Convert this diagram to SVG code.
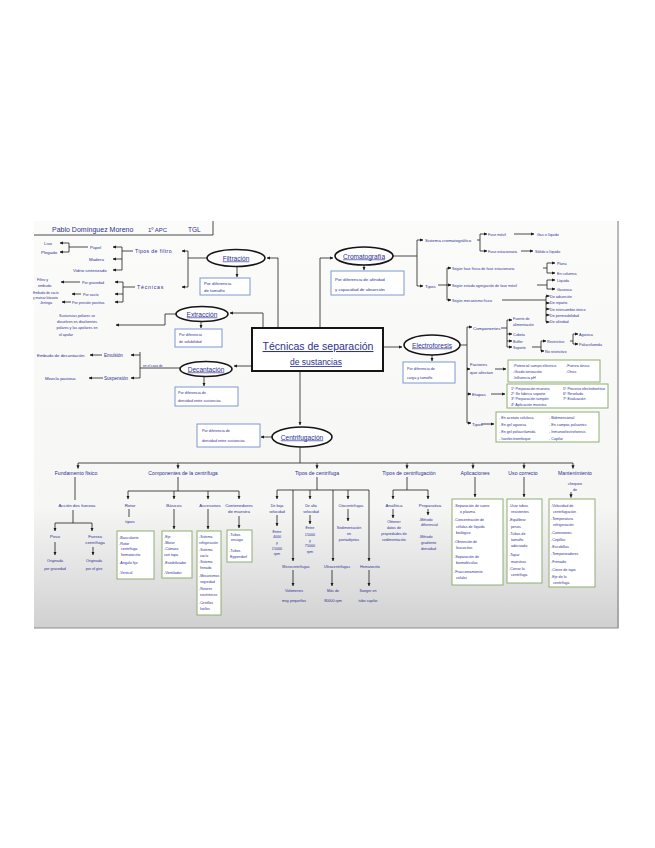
<svg xmlns="http://www.w3.org/2000/svg" width="655" height="848" viewBox="0 0 655 848">
<defs>
<linearGradient id="shade" x1="0" y1="0" x2="0" y2="1">
<stop offset="0" stop-color="#fbfbfa"/><stop offset="0.7" stop-color="#f6f6f5"/><stop offset="0.85" stop-color="#e4e4e4"/><stop offset="1" stop-color="#d0d0d0"/>
</linearGradient>
<marker id="ar" viewBox="0 0 6 6" refX="5.5" refY="3" markerWidth="3.6" markerHeight="3.6" markerUnits="userSpaceOnUse" orient="auto"><path d="M0,0.4L6,3L0,5.6z" fill="#1a1a1a"/></marker>
</defs>
<style>
.ln{fill:none;stroke:#1f1f1f;stroke-width:0.8}
.ar{marker-end:url(#ar)}
.t{font-family:"Liberation Sans",Arial,sans-serif;fill:#2d3192;font-size:4.4px}
.ts{font-size:3.7px}
.tm{font-size:5.2px}
.te{font-size:6.6px;text-decoration:underline}
.c{text-anchor:middle}
.el{fill:#fff;stroke:#151515;stroke-width:1.6}
.bb{fill:#fff;stroke:#7f98cf;stroke-width:1}
.gb{fill:#fff;stroke:#8db072;stroke-width:1}
</style>
<rect width="655" height="848" fill="#fff"/>
<rect x="34" y="221" width="585" height="407" fill="url(#shade)"/>
<path d="M618,221V628H34" fill="none" stroke="#8c8c8c" stroke-width="1.2"/>

<g id="title">
<path d="M34,235H213V221" class="ln" stroke-width="1"/>
<text class="t" x="52" y="232" style="font-size:7px">Pablo Domínguez Moreno</text>
<text class="t" x="148" y="232" style="font-size:6px">1º APC</text>
<text class="t" x="188" y="232" style="font-size:6.5px">TGL</text>
</g>

<g id="connectors">
<!-- main box -->
<path class="ln ar" d="M278,328V258H267"/>
<path class="ln ar" d="M320,328V258H333"/>
<path class="ln ar" d="M263,328V313H230"/>
<path class="ln ar" d="M252,366H234"/>
<path class="ln ar" d="M383,347H402"/>
<path class="ln ar" d="M300,371V425"/>
<!-- to description boxes -->
<path class="ln ar" d="M237,266.5V277"/>
<path class="ln ar" d="M201,322V328"/>
<path class="ln ar" d="M204,377V386"/>
<path class="ln ar" d="M364,265V270"/>
<path class="ln ar" d="M432,355V361"/>
<path class="ln ar" d="M272,437H261"/>
<!-- filtracion -->
<path class="ln" d="M207,258H188M188,251V287"/>
<path class="ln ar" d="M188,251H182"/>
<path class="ln ar" d="M188,287H182"/>
<path class="ln" d="M133,251H122M122,247V270"/>
<path class="ln ar" d="M122,247H113"/>
<path class="ln ar" d="M122,259H113"/>
<path class="ln ar" d="M122,270H113"/>
<path class="ln" d="M88,247H69M69,243V252"/>
<path class="ln ar" d="M69,243H60"/>
<path class="ln ar" d="M69,252H60"/>
<path class="ln" d="M135,287H123M123,282V302"/>
<path class="ln ar" d="M123,282H115"/>
<path class="ln ar" d="M123,294H115"/>
<path class="ln ar" d="M123,302H115"/>
<path class="ln ar" d="M80,282H61"/>
<path class="ln ar" d="M81,294H72"/>
<path class="ln ar" d="M71,302H62"/>
<!-- extraccion -->
<path class="ln ar" d="M176,314H165V325H116"/>
<!-- decantacion -->
<path class="ln" d="M180,368H140M140,352V378"/>
<path class="ln ar" d="M140,355H131"/>
<path class="ln ar" d="M140,378H131"/>
<path class="ln ar" d="M102,355H90"/>
<path class="ln ar" d="M103,378H89"/>
<!-- cromatografia -->
<path class="ln" d="M393,256H417M417,240V286"/>
<path class="ln ar" d="M417,240H423"/>
<path class="ln ar" d="M417,286H423"/>
<path class="ln" d="M477,240H480M480,234V251"/>
<path class="ln ar" d="M480,234H487"/>
<path class="ln ar" d="M480,251H487"/>
<path class="ln ar" d="M514,234H534"/>
<path class="ln ar" d="M521,251H533"/>
<path class="ln" d="M438,285H447M447,268V300"/>
<path class="ln ar" d="M447,268H451"/>
<path class="ln ar" d="M447,285H451"/>
<path class="ln ar" d="M447,300H451"/>
<path class="ln" d="M543,268H547M547,263V273"/>
<path class="ln ar" d="M547,263H555"/>
<path class="ln ar" d="M547,273H555"/>
<path class="ln" d="M537,285H547M547,280V289"/>
<path class="ln ar" d="M547,280H555"/>
<path class="ln ar" d="M547,289H555"/>
<path class="ln" d="M502,300H546M546,296V322"/>
<path class="ln ar" d="M546,296H549.5"/>
<path class="ln ar" d="M546,303H549.5"/>
<path class="ln ar" d="M546,309H549.5"/>
<path class="ln ar" d="M546,315H549.5"/>
<path class="ln ar" d="M546,322H549.5"/>
<!-- electroforesis -->
<path class="ln" d="M460,345H467M467,327V423"/>
<path class="ln ar" d="M467,327H472"/>
<path class="ln ar" d="M467,369H470"/>
<path class="ln ar" d="M467,394H471"/>
<path class="ln ar" d="M467,423H471"/>
<path class="ln" d="M501,328H507M507,320V347"/>
<path class="ln ar" d="M507,320H512"/>
<path class="ln ar" d="M507,334H512"/>
<path class="ln ar" d="M507,341H512"/>
<path class="ln ar" d="M507,347H512"/>
<path class="ln" d="M532,347H541M541,341V351"/>
<path class="ln ar" d="M541,341H546"/>
<path class="ln ar" d="M541,351H544"/>
<path class="ln" d="M570,341H573M573,334V344"/>
<path class="ln ar" d="M573,334H578"/>
<path class="ln ar" d="M573,344H578"/>
<path class="ln ar" d="M495,369H506"/>
<path class="ln ar" d="M491,394H505"/>
<path class="ln ar" d="M481,424H494"/>
<!-- centrifugacion -->
<path class="ln" d="M300,447V463M78,463H573"/>
<path class="ln ar" d="M78,463V468.5"/>
<path class="ln ar" d="M178,463V468.5"/>
<path class="ln ar" d="M317,463V468.5"/>
<path class="ln ar" d="M407,463V468.5"/>
<path class="ln ar" d="M473,463V468.5"/>
<path class="ln ar" d="M524,463V468.5"/>
<path class="ln ar" d="M573,463V468.5"/>
<!-- fundamento -->
<path class="ln" d="M75,477V500M73,510V523M55,523H92"/>
<path class="ln ar" d="M55,523V531"/>
<path class="ln ar" d="M92,523V531"/>
<path class="ln ar" d="M55,542V555"/>
<path class="ln ar" d="M93,547V555"/>
<!-- componentes -->
<path class="ln" d="M178,477V491M128,491H239M129,509V517"/>
<path class="ln ar" d="M128,491V499"/>
<path class="ln ar" d="M174,491V499"/>
<path class="ln ar" d="M208,491V499"/>
<path class="ln ar" d="M239,491V499"/>
<path class="ln ar" d="M174,509V529"/>
<path class="ln ar" d="M208,509V529"/>
<path class="ln ar" d="M239,516V528"/>
<!-- tipos de centrifuga -->
<path class="ln" d="M317,477V490M277,490H369"/>
<path class="ln ar" d="M277,490V499"/>
<path class="ln ar" d="M293,490V561"/>
<path class="ln ar" d="M310,490V499"/>
<path class="ln ar" d="M333,490V561"/>
<path class="ln ar" d="M348,490V499"/>
<path class="ln ar" d="M369,490V561"/>
<path class="ln ar" d="M277,515V526"/>
<path class="ln ar" d="M310,515V524"/>
<path class="ln ar" d="M348,509V521"/>
<path class="ln ar" d="M293,570V586"/>
<path class="ln ar" d="M332,570V586"/>
<path class="ln ar" d="M369,570V586"/>
<!-- tipos de centrifugacion -->
<path class="ln" d="M407,477V490M393,490H428"/>
<path class="ln ar" d="M393,490V499"/>
<path class="ln ar" d="M428,490V499"/>
<path class="ln ar" d="M393,509V518"/>
<path class="ln ar" d="M428,509V515"/>
<!-- aplicaciones / uso / mantenimiento -->
<path class="ln ar" d="M475,477V497"/>
<path class="ln ar" d="M524,477V497"/>
<path class="ln ar" d="M571,492V497.5"/>
</g>

<g id="tecnicas">
<rect x="252" y="328" width="131" height="43" fill="#fff" stroke="#151515" stroke-width="2"/>
<text class="t c" x="318" y="350" style="font-size:10.5px;text-decoration:underline">Técnicas de separación</text>
<text class="t c" x="316" y="365" style="font-size:8.5px;text-decoration:underline">de sustancias</text>
</g>

<g id="filtracion">
<ellipse class="el" cx="236" cy="258" rx="29" ry="8.5"/>
<text class="t te c" x="236" y="260.5">Filtración</text>
<rect class="bb" x="200" y="278" width="50" height="17"/>
<text class="t" x="204" y="285">Por diferencia</text>
<text class="t" x="204" y="292">de tamaño</text>
<text class="t tm" x="135" y="253" style="letter-spacing:0.4px">Tipos de filtro</text>
<text class="t tm" x="137" y="289" style="letter-spacing:0.8px">Técnicas</text>
<text class="t" x="90" y="248.5">Papel</text>
<text class="t" x="89" y="260.5">Madera</text>
<text class="t" x="73" y="271.5">Vidrio sinterizado</text>
<text class="t" x="44" y="244.5">Liso</text>
<text class="t" x="41" y="254">Plegado</text>
<text class="t ts" x="82" y="283.5">Por gravedad</text>
<text class="t ts" x="83" y="295.5">Por vacío</text>
<text class="t ts" x="72" y="303.5">Por presión positiva</text>
<text class="t ts" x="37" y="280.5">Filtro y</text>
<text class="t ts" x="38" y="287">embudo</text>
<text class="t" x="33" y="294" style="font-size:3.3px">Embudo de vacío</text>
<text class="t" x="33" y="298.5" style="font-size:3.3px">y matraz kitasato</text>
<text class="t ts" x="40" y="304">Jeringa</text>
</g>

<g id="extraccion">
<ellipse class="el" cx="202" cy="314" rx="26" ry="7.5"/>
<text class="t te c" x="202" y="316.5">Extracción</text>
<rect class="bb" x="175" y="329" width="47" height="18"/>
<text class="t ts" x="179" y="336">Por diferencia</text>
<text class="t ts" x="179" y="343">de solubilidad</text>
<text class="t ts c" x="77" y="317">Sustancias polares se</text>
<text class="t ts c" x="77" y="323">disuelven en disolventes</text>
<text class="t ts c" x="77" y="329">polares y las apolares en</text>
<text class="t ts c" x="66" y="336">el apolar</text>
</g>

<g id="decantacion">
<ellipse class="el" cx="206" cy="369" rx="26" ry="7.5"/>
<text class="t te c" x="206" y="371.5">Decantación</text>
<rect class="bb" x="175" y="387" width="63" height="19"/>
<text class="t ts" x="178" y="394">Por diferencia de</text>
<text class="t ts" x="178" y="402">densidad entre sustancias</text>
<text class="t" x="143" y="366.5" style="font-size:3.3px">en el caso de</text>
<text class="t tm" x="104" y="357" style="font-size:4.6px">Emulsión</text>
<text class="t tm" x="104" y="380" style="font-size:4.6px">Suspensión</text>
<text class="t" x="37" y="357">Embudo de decantación</text>
<text class="t" x="45" y="380">Mezcla pastosa</text>
</g>

<g id="cromatografia">
<ellipse class="el" cx="364" cy="256" rx="29" ry="9"/>
<text class="t te c" x="364" y="258.5">Cromatografía</text>
<rect class="bb" x="331" y="271" width="73" height="24"/>
<text class="t" x="335" y="281">Por diferencia de afinidad</text>
<text class="t" x="335" y="291">y capacidad de absorción</text>
<text class="t" x="425" y="242">Sistema cromatográfico</text>
<text class="t" x="425" y="287.5">Tipos</text>
<text class="t ts" x="488" y="235.5">Fase móvil</text>
<text class="t ts" x="488" y="252.5">Fase estacionaria</text>
<text class="t ts" x="537" y="235.5">Gas o líquido</text>
<text class="t ts" x="535" y="252.5">Sólido o líquido</text>
<text class="t ts" x="452" y="269.5">Según fase física de fase estacionaria</text>
<text class="t ts" x="452" y="286.5">Según estado agregación de fase móvil</text>
<text class="t ts" x="452" y="301.5">Según mecanismo físico</text>
<text class="t ts" x="557" y="264.5">Plana</text>
<text class="t ts" x="557" y="274.5">En columna</text>
<text class="t ts" x="557" y="281.5">Líquida</text>
<text class="t ts" x="557" y="290.5">Gaseosa</text>
<text class="t ts" x="550" y="297.5">De adsorción</text>
<text class="t ts" x="550" y="304">De reparto</text>
<text class="t ts" x="550" y="310.5">De intercambio iónico</text>
<text class="t ts" x="550" y="316.5">De permeabilidad</text>
<text class="t ts" x="550" y="323">De afinidad</text>
</g>

<g id="electroforesis">
<ellipse class="el" cx="432" cy="345" rx="28" ry="10"/>
<text class="t te c" x="432" y="347.5">Electroforesis</text>
<rect class="bb" x="403" y="362" width="52" height="21"/>
<text class="t ts" x="407" y="370">Por diferencia de</text>
<text class="t ts" x="407" y="379">carga y tamaño</text>
<text class="t" x="473" y="329.5">Componentes</text>
<text class="t ts" x="513" y="319.5">Fuente de</text>
<text class="t ts" x="513" y="325.5">alimentación</text>
<text class="t ts" x="513" y="335.5">Cubeta</text>
<text class="t ts" x="513" y="342.5">Buffer</text>
<text class="t ts" x="513" y="348.5">Soporte</text>
<text class="t ts" x="547" y="342.5">Restrictivo</text>
<text class="t ts" x="545" y="352.5">No restrictivo</text>
<text class="t ts" x="579" y="335.5">Agarosa</text>
<text class="t ts" x="579" y="345.5">Poliacrilamida</text>
<text class="t" x="470" y="365.5">Factores</text>
<text class="t" x="470" y="373.5">que afectan</text>
<rect class="gb" x="508" y="360" width="92" height="22"/>
<text class="t ts" x="513" y="366.5">-Potencial campo eléctrico</text>
<text class="t ts" x="513" y="372.5">-Grado ionización</text>
<text class="t ts" x="513" y="379">-Influencia pH</text>
<text class="t ts" x="566" y="366.5">-Fuerza iónica</text>
<text class="t ts" x="566" y="372.5">-Otros</text>
<text class="t" x="472" y="395.5">Etapas</text>
<rect class="gb" x="507" y="384" width="101" height="24"/>
<text class="t ts" x="511" y="389.5">1º Preparación muestra</text>
<text class="t ts" x="511" y="394.5">2º Se fabrica soporte</text>
<text class="t ts" x="511" y="399.5">3º Preparación tampón</text>
<text class="t ts" x="511" y="405.5">4º Aplicación muestra</text>
<text class="t ts" x="563" y="389.5">5º Proceso electroforético</text>
<text class="t ts" x="563" y="394.5">6º Revelado</text>
<text class="t ts" x="563" y="399.5">7º Evaluación</text>
<text class="t" x="472" y="425.5">Tipos</text>
<rect class="gb" x="496" y="412" width="103" height="30"/>
<text class="t ts" x="499" y="418.5">- En acetato celulosa</text>
<text class="t ts" x="499" y="425.5">- En gel agarosa</text>
<text class="t ts" x="499" y="432.5">- En gel poliacrilamida</text>
<text class="t ts" x="499" y="439.5">- Isoelectroenfoque</text>
<text class="t ts" x="549" y="418.5">- Bidimensional</text>
<text class="t ts" x="549" y="425.5">- En campos pulsantes</text>
<text class="t ts" x="549" y="432.5">- Inmunoelectroforesis</text>
<text class="t ts" x="549" y="439.5">- Capilar</text>
</g>

<g id="centrifugacion">
<ellipse class="el" cx="302" cy="437" rx="30" ry="10"/>
<text class="t te c" x="302" y="439.5">Centrifugación</text>
<rect class="bb" x="197" y="424" width="63" height="23"/>
<text class="t ts" x="202" y="432">Por diferencia de</text>
<text class="t ts" x="202" y="442">densidad entre sustancias</text>
</g>

<g id="fundamento">
<text class="t tm c" x="76" y="475">Fundamento físico</text>
<text class="t c" x="77" y="507">Acción dos fuerzas</text>
<text class="t c" x="55" y="538">Peso</text>
<text class="t c" x="95" y="538">Fuerza</text>
<text class="t c" x="95" y="544">centrífuga</text>
<text class="t ts c" x="55" y="562">Originada</text>
<text class="t ts c" x="55" y="570">por gravedad</text>
<text class="t ts c" x="94" y="562">Originada</text>
<text class="t ts c" x="94" y="570">por el giro</text>
</g>

<g id="componentes">
<text class="t tm c" x="183" y="475">Componentes de la centrífuga</text>
<text class="t c" x="130" y="506.5">Rotor</text>
<text class="t c" x="130" y="522.5">tipos</text>
<rect class="gb" x="117" y="531" width="37" height="48"/>
<text class="t ts" x="119" y="538.5">-Basculante</text>
<text class="t ts" x="119" y="544.5">-Rotor</text>
<text class="t ts" x="121" y="550">centrífuga</text>
<text class="t ts" x="121" y="556">hematocrito</text>
<text class="t ts" x="119" y="564">-Ángulo fijo</text>
<text class="t ts" x="119" y="574">-Vertical</text>
<text class="t c" x="174" y="506.5">Básicos</text>
<rect class="gb" x="162" y="531" width="30" height="47"/>
<text class="t ts" x="164" y="537.5">-Eje</text>
<text class="t ts" x="164" y="543.5">-Motor</text>
<text class="t ts" x="164" y="550">-Cámara</text>
<text class="t ts" x="164" y="556">con tapa</text>
<text class="t ts" x="164" y="564">-Estabilizador</text>
<text class="t ts" x="164" y="574">-Ventilador</text>
<text class="t c" x="210" y="506.5">Accesorios</text>
<rect class="gb" x="197" y="531" width="24" height="84"/>
<text class="t" x="199" y="538" style="font-size:3.4px">-Sistema</text>
<text class="t" x="199" y="543.5" style="font-size:3.4px">refrigeración</text>
<text class="t" x="199" y="551" style="font-size:3.4px">-Sistema</text>
<text class="t" x="200" y="557" style="font-size:3.4px">vacío</text>
<text class="t" x="199" y="563" style="font-size:3.4px">-Sistema</text>
<text class="t" x="200" y="569" style="font-size:3.4px">frenado</text>
<text class="t" x="199" y="577" style="font-size:3.4px">-Mecanismos</text>
<text class="t" x="200" y="583" style="font-size:3.4px">seguridad</text>
<text class="t" x="199" y="590" style="font-size:3.4px">-Rotores</text>
<text class="t" x="200" y="596" style="font-size:3.4px">excéntricos</text>
<text class="t" x="199" y="604" style="font-size:3.4px">-Cestillos</text>
<text class="t" x="200" y="610" style="font-size:3.4px">fuelles</text>
<text class="t c" x="239" y="506.5">Contenedores</text>
<text class="t c" x="239" y="513">de muestra</text>
<rect class="gb" x="227" y="530" width="25" height="32"/>
<text class="t ts" x="229" y="535.5">-Tubos</text>
<text class="t ts" x="231" y="541">ensayo</text>
<text class="t ts" x="229" y="552">-Tubos</text>
<text class="t ts" x="230" y="558">Eppendorf</text>
</g>

<g id="tipos-centrifuga">
<text class="t tm c" x="317" y="475">Tipos de centrífuga</text>
<text class="t ts c" x="277" y="506.5">De baja</text>
<text class="t ts c" x="277" y="513">velocidad</text>
<text class="t ts c" x="277" y="532.5">Entre</text>
<text class="t ts c" x="277" y="538">4000</text>
<text class="t ts c" x="277" y="543.5">y</text>
<text class="t ts c" x="277" y="549.5">15000</text>
<text class="t ts c" x="277" y="555">rpm</text>
<text class="t ts c" x="311" y="506.5">De alta</text>
<text class="t ts c" x="311" y="513">velocidad</text>
<text class="t ts c" x="310" y="529">Entre</text>
<text class="t ts c" x="310" y="536">15000</text>
<text class="t ts c" x="310" y="541.5">y</text>
<text class="t ts c" x="310" y="547">75000</text>
<text class="t ts c" x="310" y="553">rpm</text>
<text class="t ts c" x="351" y="506.5">Citocentrífugas</text>
<text class="t ts c" x="349" y="528.5">Sedimentación</text>
<text class="t ts c" x="349" y="534.5">en</text>
<text class="t ts c" x="349" y="540.5">portaobjetos</text>
<text class="t ts c" x="296" y="567.5">Microcentrífugas</text>
<text class="t ts c" x="294" y="592">Volúmenes</text>
<text class="t ts c" x="294" y="601.5">muy pequeños</text>
<text class="t ts c" x="337" y="567.5">Ultracentrífugas</text>
<text class="t ts c" x="333" y="592">Más de</text>
<text class="t ts c" x="333" y="601.5">80000 rpm</text>
<text class="t ts c" x="370" y="567.5">Hematocrito</text>
<text class="t ts c" x="368" y="592">Sangre en</text>
<text class="t ts c" x="368" y="601.5">tubo capilar</text>
</g>

<g id="tipos-centrifugacion">
<text class="t tm c" x="409" y="475">Tipos de centrifugación</text>
<text class="t c" x="394" y="506.5">Analítica</text>
<text class="t ts c" x="394" y="523">Obtener</text>
<text class="t ts c" x="394" y="529">datos de</text>
<text class="t ts c" x="394" y="535">propiedades de</text>
<text class="t ts c" x="394" y="541">sedimentación</text>
<text class="t c" x="430" y="506.5">Preparativa</text>
<text class="t ts" x="419" y="520.5">-Método</text>
<text class="t ts" x="421" y="526">diferencial</text>
<text class="t ts" x="419" y="537.5">-Método</text>
<text class="t ts" x="421" y="543.5">gradiente</text>
<text class="t ts" x="421" y="549.5">densidad</text>
</g>

<g id="aplicaciones">
<text class="t tm c" x="475" y="475">Aplicaciones</text>
<rect class="gb" x="452" y="499" width="51" height="86"/>
<text class="t ts" x="454" y="506.5">-Separación de suero</text>
<text class="t ts" x="460" y="513">o plasma</text>
<text class="t ts" x="454" y="521">-Concentración de</text>
<text class="t ts" x="456" y="527.5">células de líquido</text>
<text class="t ts" x="456" y="534">biológico</text>
<text class="t ts" x="454" y="543">-Obtención de</text>
<text class="t ts" x="456" y="549">leucocitos</text>
<text class="t ts" x="454" y="558">-Separación de</text>
<text class="t ts" x="456" y="564">biomoléculas</text>
<text class="t ts" x="454" y="573">-Fraccionamiento</text>
<text class="t ts" x="456" y="579">celular</text>
</g>

<g id="uso-correcto">
<text class="t tm c" x="523" y="475">Uso correcto</text>
<rect class="gb" x="507" y="499" width="35" height="84"/>
<text class="t ts" x="509" y="506.5">-Usar tubos</text>
<text class="t ts" x="511" y="513">resistentes</text>
<text class="t ts" x="509" y="521">-Equilibrar</text>
<text class="t ts" x="511" y="528">pesos</text>
<text class="t ts" x="509" y="535">-Tubos de</text>
<text class="t ts" x="511" y="541">tamaño</text>
<text class="t ts" x="511" y="547">adecuado</text>
<text class="t ts" x="509" y="556">-Tapar</text>
<text class="t ts" x="511" y="563">muestras</text>
<text class="t ts" x="509" y="570">-Cerrar la</text>
<text class="t ts" x="511" y="576">centrífuga</text>
</g>

<g id="mantenimiento">
<text class="t tm c" x="575" y="475">Mantenimiento</text>
<text class="t ts c" x="575" y="485">chequeo</text>
<text class="t ts c" x="575" y="491">de</text>
<rect class="gb" x="549" y="499" width="46" height="88"/>
<text class="t ts" x="551" y="506.5">-Velocidad de</text>
<text class="t ts" x="553" y="513">centrifugación</text>
<text class="t ts" x="551" y="520">-Temperatura</text>
<text class="t ts" x="553" y="526">refrigeración</text>
<text class="t ts" x="551" y="534">-Conexiones</text>
<text class="t ts" x="551" y="541">-Cepillos</text>
<text class="t ts" x="551" y="548">-Escobillas</text>
<text class="t ts" x="551" y="555">-Temporizadores</text>
<text class="t ts" x="551" y="563">-Frenado</text>
<text class="t ts" x="551" y="571">-Cierre de tapa</text>
<text class="t ts" x="551" y="578">-Eje de la</text>
<text class="t ts" x="553" y="584">centrífuga</text>
</g>
</svg>
